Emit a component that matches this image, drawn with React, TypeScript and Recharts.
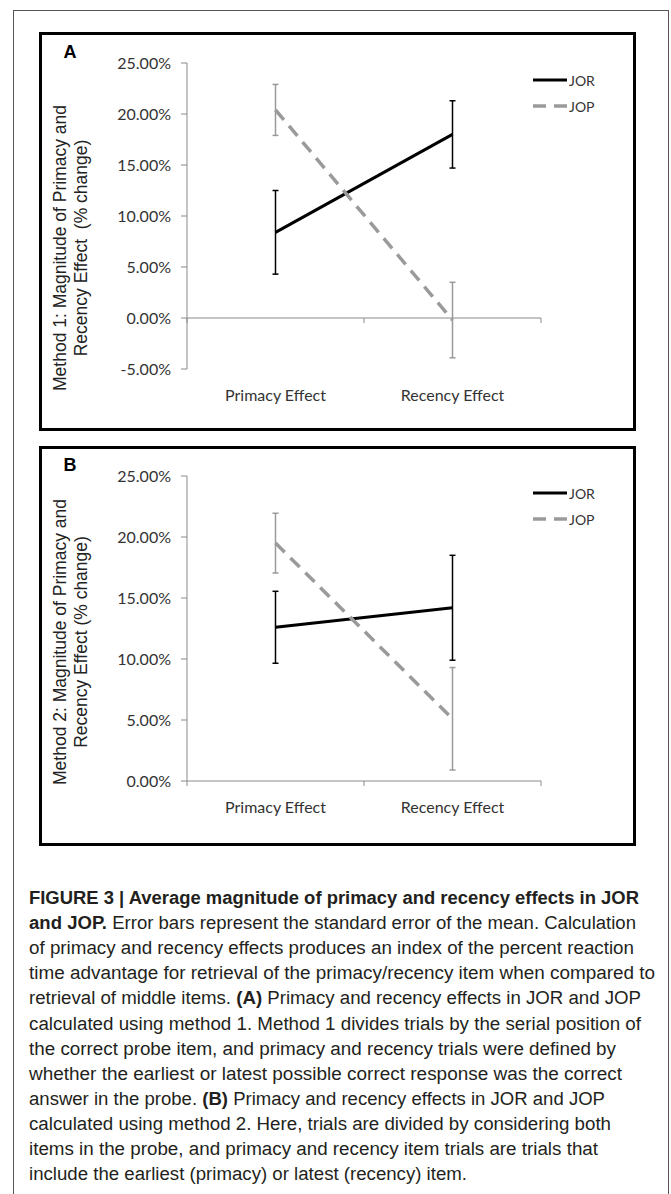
import React from "react";
import {
  LineChart,
  Line,
  XAxis,
  YAxis,
  ErrorBar,
  Legend,
  ReferenceLine,
} from "recharts";

// values are percent change
const categories = ["Primacy Effect", "Recency Effect"];
const seriesNames = ["JOR", "JOP"];
const jorMethod1 = [8.4, 18.0];
const jorMethod1Err = [4.1, 3.3];
const jopMethod1 = [20.4, -0.2];
const jopMethod1Err = [2.5, 3.7];
const jorMethod2 = [12.6, 14.2];
const jorMethod2Err = [2.95, 4.3];
const jopMethod2 = [19.5, 5.1];
const jopMethod2Err = [2.45, 4.2];
const ticksMethod1 = [-5, 0, 5, 10, 15, 20, 25];
const ticksMethod2 = [0, 5, 10, 15, 20, 25];

const captionLines = [
  [{ b: true, t: "FIGURE 3 | Average magnitude of primacy and recency effects in JOR" }],
  [{ b: true, t: "and JOP." }, { b: false, t: " Error bars represent the standard error of the mean. Calculation" }],
  [{ b: false, t: "of primacy and recency effects produces an index of the percent reaction" }],
  [{ b: false, t: "time advantage for retrieval of the primacy/recency item when compared to" }],
  [{ b: false, t: "retrieval of middle items. " }, { b: true, t: "(A)" }, { b: false, t: " Primacy and recency effects in JOR and JOP" }],
  [{ b: false, t: "calculated using method 1. Method 1 divides trials by the serial position of" }],
  [{ b: false, t: "the correct probe item, and primacy and recency trials were defined by" }],
  [{ b: false, t: "whether the earliest or latest possible correct response was the correct" }],
  [{ b: false, t: "answer in the probe. " }, { b: true, t: "(B)" }, { b: false, t: " Primacy and recency effects in JOR and JOP" }],
  [{ b: false, t: "calculated using method 2. Here, trials are divided by considering both" }],
  [{ b: false, t: "items in the probe, and primacy and recency item trials are trials that" }],
  [{ b: false, t: "include the earliest (primacy) or latest (recency) item." }],
];
const captionWidths = [610, 607, 605, 626, 612, 612, 587, 593, 576, 582, 569, 438];

const AXIS = "#8a8a8a";
const TICK_FONT = "Lato, 'Open Sans', sans-serif";
const seriesStyle: Record<string, { stroke: string; width: number; dash?: string }> = {
  JOR: { stroke: "#000000", width: 3 },
  JOP: { stroke: "#9a9a9a", width: 3.5, dash: "13 8" },
};

const makeRows = (jor: number[], jorErr: number[], jop: number[], jopErr: number[]) =>
  categories.map((category, i) => ({
    category,
    JOR: jor[i],
    jorErr: jorErr[i],
    JOP: jop[i],
    jopErr: jopErr[i],
  }));

const pct = (v: number) => `${v.toFixed(2)}%`;

// Excel-style category axis: line at zero with ticks between categories
const CategoryAxisLine = (props: any) => {
  const { x1, x2, y1 } = props;
  const mid = (x1 + x2) / 2;
  return (
    <g>
      <line x1={x1} y1={y1} x2={x2} y2={y1} stroke={AXIS} strokeWidth={1} />
      {[x1, mid, x2].map((x: number) => (
        <line key={x} x1={x} y1={y1} x2={x} y2={y1 + 5} stroke={AXIS} strokeWidth={1} />
      ))}
    </g>
  );
};

const LegendBox = (props: any) => {
  const items = [...(props.payload || [])].sort(
    (a: any, b: any) => seriesNames.indexOf(a.value) - seriesNames.indexOf(b.value)
  );
  return (
    <div>
      {items.map((entry: any) => {
        const s = seriesStyle[entry.value];
        return (
          <div key={entry.value} style={{ display: "flex", alignItems: "center", height: 26 }}>
            <svg width={36} height={8}>
              <line
                x1={0}
                y1={4}
                x2={34}
                y2={4}
                stroke={s.stroke}
                strokeWidth={s.width}
                strokeDasharray={s.dash}
              />
            </svg>
            <span style={{ fontFamily: TICK_FONT, fontSize: 14, color: "#333" }}>{entry.value}</span>
          </div>
        );
      })}
    </div>
  );
};

interface PanelProps {
  data: ReturnType<typeof makeRows>;
  ticks: number[];
  top: number;
  height: number;
  marginTop: number;
  marginBottom: number;
  legendTop: number;
}

const Panel: React.FC<PanelProps> = ({ data, ticks, top, height, marginTop, marginBottom, legendTop }) => (
  <div style={{ position: "absolute", left: 0, top }}>
    <LineChart
      width={671}
      height={height}
      data={data}
      margin={{ top: marginTop, right: 130, bottom: marginBottom, left: 0 }}
    >
      <XAxis
        dataKey="category"
        padding={{ left: 88.5, right: 88.5 }}
        axisLine={false}
        tickLine={false}
        tickSize={0}
        tickMargin={21}
        height={40}
        interval={0}
        tick={{ fill: "#333", fontSize: 16, fontFamily: TICK_FONT }}
      />
      <YAxis
        type="number"
        domain={[ticks[0], ticks[ticks.length - 1]]}
        ticks={ticks}
        interval={0}
        tickFormatter={pct}
        width={187}
        axisLine={{ stroke: AXIS }}
        tickLine={{ stroke: AXIS }}
        tickSize={6}
        tickMargin={10}
        tick={{ fill: "#333", fontSize: 16, fontFamily: TICK_FONT }}
      />
      <ReferenceLine y={0} shape={CategoryAxisLine} />
      <Legend
        content={LegendBox}
        layout="horizontal"
        verticalAlign="top"
        align="right"
        wrapperStyle={{ left: 533, top: legendTop, width: 100, height: 0, overflow: "visible" }}
      />
      <Line
        dataKey="JOR"
        stroke={seriesStyle.JOR.stroke}
        strokeWidth={seriesStyle.JOR.width}
        dot={false}
        activeDot={false}
        isAnimationActive={false}
      >
        <ErrorBar dataKey="jorErr" width={3} stroke="#000" strokeWidth={1.5} direction="y" isAnimationActive={false} />
      </Line>
      <Line
        dataKey="JOP"
        stroke={seriesStyle.JOP.stroke}
        strokeWidth={seriesStyle.JOP.width}
        strokeDasharray={seriesStyle.JOP.dash}
        dot={false}
        activeDot={false}
        isAnimationActive={false}
      >
        <ErrorBar dataKey="jopErr" width={3} stroke="#9a9a9a" strokeWidth={1.5} direction="y" isAnimationActive={false} />
      </Line>
    </LineChart>
  </div>
);

const panelBox = (top: number, height: number): React.CSSProperties => ({
  position: "absolute",
  left: 39,
  top,
  width: 597,
  height,
  border: "3px solid #000",
  boxSizing: "border-box",
});

export default function App() {
  const dataA = makeRows(jorMethod1, jorMethod1Err, jopMethod1, jopMethod1Err);
  const dataB = makeRows(jorMethod2, jorMethod2Err, jopMethod2, jopMethod2Err);
  const labelFont = "'Liberation Sans', Arial, sans-serif";

  return (
    <div
      style={{
        position: "absolute",
        left: 0,
        top: 0,
        width: 671,
        height: 1194,
        overflow: "hidden",
        background: "#fff",
      }}
    >
      <div
        style={{
          position: "absolute",
          left: 13,
          top: 10,
          width: 656,
          height: 1190,
          borderTop: "1px solid #555",
          borderLeft: "1px solid #555",
          borderRight: "1px solid #555",
          boxSizing: "border-box",
        }}
      />
      <div style={panelBox(32, 399)} />
      <div style={panelBox(446, 400)} />

      <Panel data={dataA} ticks={ticksMethod1} top={0} height={431} marginTop={63} marginBottom={22} legendTop={67} />
      <Panel data={dataB} ticks={ticksMethod2} top={446} height={400} marginTop={30} marginBottom={25} legendTop={34} />

      <svg
        width={671}
        height={1194}
        style={{ position: "absolute", left: 0, top: 0, pointerEvents: "none" }}
      >
        <text x={70} y={58} textAnchor="middle" fontFamily={labelFont} fontWeight="bold" fontSize={18} fill="#000">
          A
        </text>
        <text x={70} y={471} textAnchor="middle" fontFamily={labelFont} fontWeight="bold" fontSize={18} fill="#000">
          B
        </text>

        <g fontFamily={labelFont} fontSize={17.5} fill="#222" textAnchor="middle">
          <text transform="translate(66,248) rotate(-90)">Method 1: Magnitude of Primacy and</text>
          <text transform="translate(87,248) rotate(-90)" style={{ whiteSpace: "pre" }}>
            Recency Effect  (% change)
          </text>
          <text transform="translate(66,642) rotate(-90)">Method 2: Magnitude of Primacy and</text>
          <text transform="translate(87,642) rotate(-90)">Recency Effect (% change)</text>
        </g>

        <g fontFamily={labelFont} fontSize={18} fill="#231f20">
          {captionLines.map((parts, i) => (
            <text
              key={i}
              x={29}
              y={904 + i * 25.1}
              textLength={captionWidths[i]}
              lengthAdjust="spacingAndGlyphs"
              style={{ whiteSpace: "pre" }}
            >
              {parts.map((p, j) => (
                <tspan key={j} fontWeight={p.b ? "bold" : "normal"}>
                  {p.t}
                </tspan>
              ))}
            </text>
          ))}
        </g>
      </svg>
    </div>
  );
}
